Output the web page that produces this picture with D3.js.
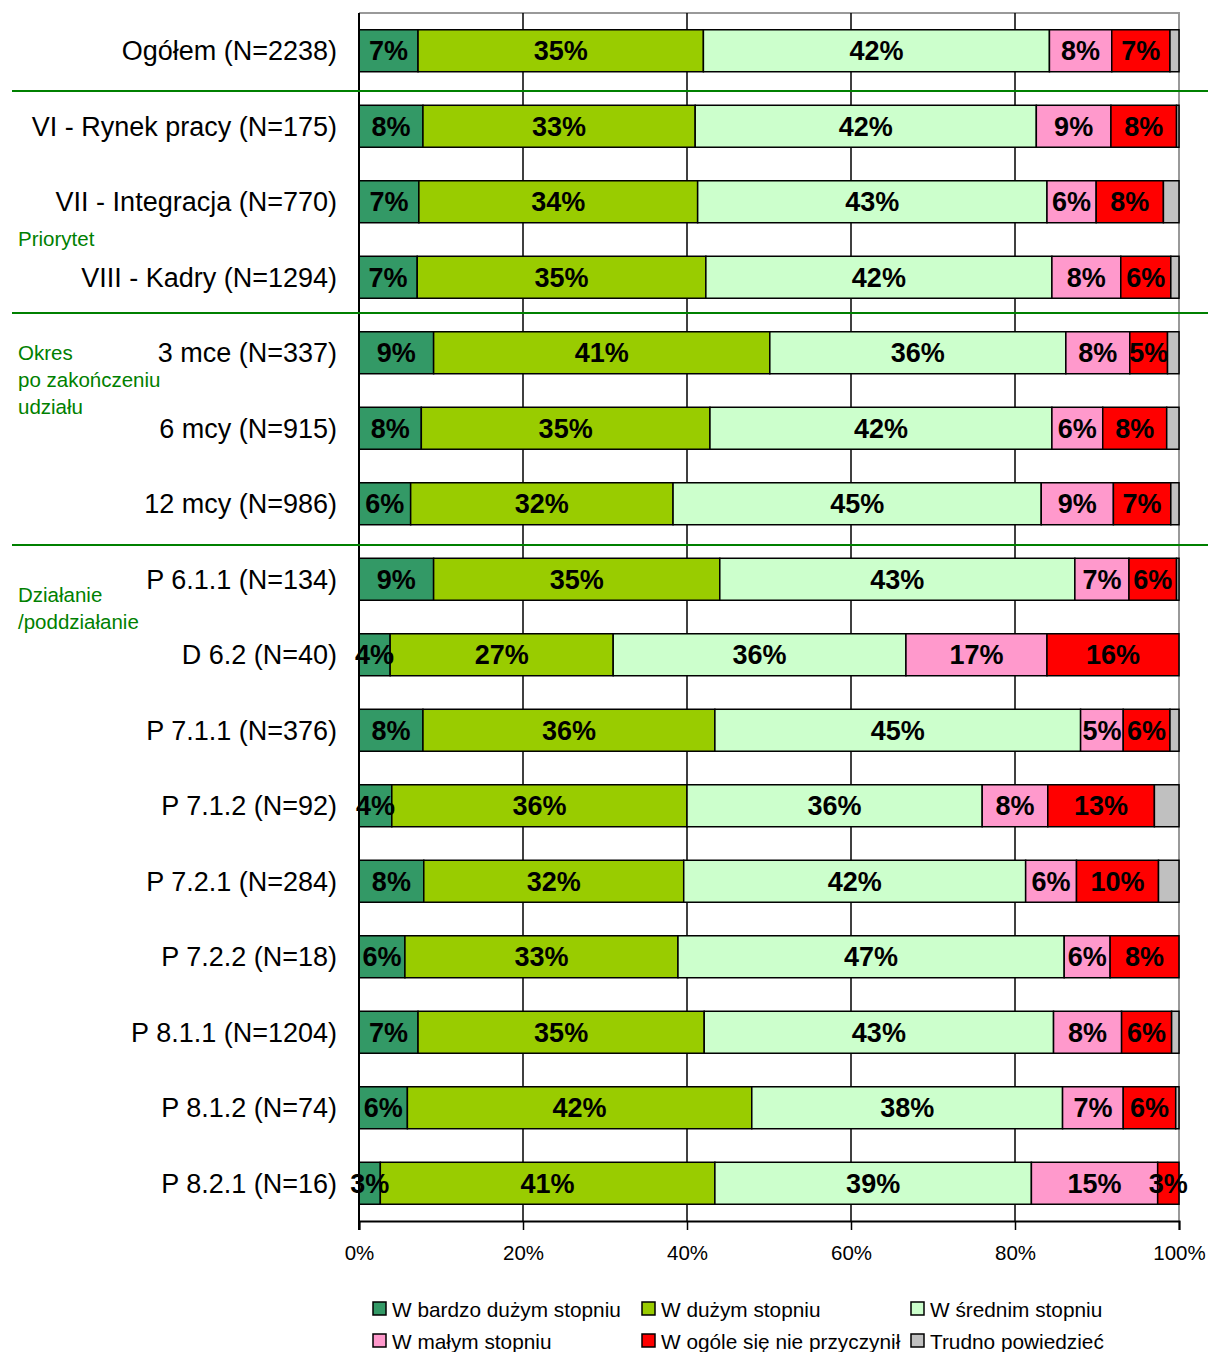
<!DOCTYPE html>
<html>
<head>
<meta charset="utf-8">
<script src="https://cdn.jsdelivr.net/npm/d3@7"></script>
<style>
  body { margin: 0; background: #fff; }
  text { font-family: "Liberation Sans", Arial, sans-serif; }
  .narrow { font-family: "Liberation Sans Narrow", "Liberation Sans", Arial, sans-serif; }
</style>
</head>
<body>
<svg id="canvas" width="1208" height="1352"></svg>
<script>
// categories (rows, top to bottom)
let categories = [
  "Ogółem (N=2238)",
  "VI - Rynek pracy (N=175)",
  "VII - Integracja (N=770)",
  "VIII - Kadry (N=1294)",
  "3 mce (N=337)",
  "6 mcy (N=915)",
  "12 mcy (N=986)",
  "P 6.1.1 (N=134)",
  "D 6.2 (N=40)",
  "P 7.1.1 (N=376)",
  "P 7.1.2 (N=92)",
  "P 7.2.1 (N=284)",
  "P 7.2.2 (N=18)",
  "P 8.1.1 (N=1204)",
  "P 8.1.2 (N=74)",
  "P 8.2.1 (N=16)"
]

let seriesNames = ["W bardzo dużym stopniu", "W dużym stopniu", "W średnim stopniu",
                   "W małym stopniu", "W ogóle się nie przyczynił", "Trudno powiedzieć"]
let seriesColors = ["#339966", "#99CC00", "#CCFFCC", "#FF99CC", "#FF0000", "#C0C0C0"]

// percent values per series, one per category
let bardzoDuzym = [7.2, 7.8, 7.3, 7.1, 9.1, 7.6, 6.3, 9.1, 3.8, 7.8, 4.0, 7.9, 5.6, 7.2, 5.9, 2.6]
let duzym       = [34.8, 33.2, 34.0, 35.2, 41.0, 35.2, 32.0, 34.9, 27.2, 35.6, 36.0, 31.7, 33.3, 34.9, 42.0, 40.8]
let srednim     = [42.2, 41.6, 42.6, 42.2, 36.1, 41.7, 44.9, 43.3, 35.7, 44.6, 36.0, 41.7, 47.1, 42.6, 37.9, 38.6]
let malym       = [7.6, 9.1, 6.0, 8.4, 7.8, 6.2, 8.8, 6.6, 17.2, 5.2, 8.0, 6.2, 5.6, 8.3, 7.4, 15.4]
let wOgole      = [7.1, 8.0, 8.2, 6.1, 4.6, 7.8, 7.0, 5.8, 16.1, 5.7, 13.0, 10.0, 8.4, 6.1, 6.4, 2.6]
let trudno      = [1.1, 0.3, 1.9, 1.0, 1.4, 1.5, 1.0, 0.3, 0, 1.1, 3.0, 2.5, 0, 0.9, 0.4, 0]

let xTicks = [0, 20, 40, 60, 80, 100]

// group labels at the left and separators
let groupLabels = [
  {lines: ["Priorytet"], x: 18, y: 246},
  {lines: ["Okres", "po zakończeniu", "udziału"], x: 18, y: 360},
  {lines: ["Działanie", "/poddziałanie"], x: 18, y: 602}
]
let separatorsAfter = [0, 3, 6]
let separatorShift = [2.5, -2, 3.5]

let series = [bardzoDuzym, duzym, srednim, malym, wOgole, trudno]

let rows = categories.map((c, i) => {
  let r = {cat: c}
  seriesNames.forEach((s, j) => r[s] = series[j][i])
  return r
})

let canvas = d3.select("#canvas")

let plotLeft = 359, plotRight = 1179, plotTop = 13, plotBottom = 1221

let x = d3.scaleLinear().domain([0, 100]).range([plotLeft, plotRight])
let y = d3.scaleBand().domain(categories).range([plotTop, plotBottom])
          .paddingInner(0.444).paddingOuter(0.222)

let stacked = d3.stack().keys(seriesNames)(rows)

// plot border (top and right, gray)
canvas.append("path")
  .attr("d", `M${plotLeft},${plotTop}H${plotRight}V${plotBottom}`)
  .attr("fill", "none").attr("stroke", "#999").attr("stroke-width", 2)

// vertical gridlines
canvas.selectAll(".grid")
  .data(xTicks.slice(1, -1))
  .enter().append("line")
  .attr("x1", d => x(d)).attr("x2", d => x(d))
  .attr("y1", plotTop).attr("y2", plotBottom)
  .attr("stroke", "#000").attr("stroke-width", 1.5)

// bars
let layer = canvas.selectAll(".layer")
  .data(stacked)
  .enter().append("g")
  .attr("fill", (d, i) => seriesColors[i])

layer.selectAll("rect")
  .data(d => d)
  .enter().append("rect")
  .attr("x", d => x(d[0]))
  .attr("y", d => y(d.data.cat))
  .attr("width", d => x(d[1]) - x(d[0]))
  .attr("height", y.bandwidth())
  .attr("stroke", "#000").attr("stroke-width", 1.5)

// bar value labels (all but "Trudno powiedzieć")
stacked.slice(0, 5).forEach(s => {
  canvas.append("g").selectAll("text")
    .data(s)
    .enter().append("text")
    .attr("x", d => (x(d[0]) + x(d[1])) / 2)
    .attr("y", d => y(d.data.cat) + y.bandwidth() / 2)
    .attr("dy", "0.36em")
    .attr("text-anchor", "middle")
    .attr("font-size", 27).attr("font-weight", "bold")
    .attr("fill", "#000")
    .text(d => Math.round(d[1] - d[0]) + "%")
})

// x axis
let xAxis = d3.axisBottom(x).tickValues(xTicks).tickFormat(d => d + "%").tickSize(9)
let gx = canvas.append("g").attr("transform", `translate(0,${plotBottom})`).call(xAxis)
gx.select(".domain").attr("stroke", "#000").attr("stroke-width", 2)
gx.selectAll(".tick line").attr("stroke", "#000").attr("stroke-width", 1.5)
gx.selectAll(".tick text")
  .attr("class", "narrow")
  .attr("font-size", 20.5).attr("fill", "#000").attr("y", 24)

// y axis line
canvas.append("line")
  .attr("x1", plotLeft).attr("x2", plotLeft).attr("y1", plotTop).attr("y2", plotBottom + 9)
  .attr("stroke", "#000").attr("stroke-width", 2)

// category labels
canvas.selectAll(".cat")
  .data(categories)
  .enter().append("text")
  .attr("x", 337)
  .attr("y", d => y(d) + y.bandwidth() / 2)
  .attr("dy", "0.36em")
  .attr("text-anchor", "end")
  .attr("font-size", 27)
  .attr("fill", "#000")
  .text(d => d)

// green separators
canvas.selectAll(".sep")
  .data(separatorsAfter)
  .enter().append("line")
  .attr("x1", 12).attr("x2", 1208)
  .attr("y1", (d, i) => y(categories[d + 1]) - (y.step() - y.bandwidth()) / 2 + separatorShift[i])
  .attr("y2", (d, i) => y(categories[d + 1]) - (y.step() - y.bandwidth()) / 2 + separatorShift[i])
  .attr("stroke", "#008000").attr("stroke-width", 2)

// group labels
groupLabels.forEach(g => {
  let t = canvas.append("text")
    .attr("x", g.x).attr("y", g.y)
    .attr("font-size", 20.5).attr("fill", "#008000")
  g.lines.forEach((l, i) => {
    t.append("tspan").attr("x", g.x).attr("dy", i == 0 ? 0 : 27).text(l)
  })
})

// legend
let legendX = [373, 642, 911]
let legendY = [1309, 1341]
let legend = canvas.selectAll(".legend")
  .data(seriesNames)
  .enter().append("g")
  .attr("transform", (d, i) => `translate(${legendX[i % 3]},${legendY[Math.floor(i / 3)]})`)

legend.append("rect")
  .attr("x", 0).attr("y", -7)
  .attr("width", 13).attr("height", 13)
  .attr("fill", (d, i) => seriesColors[i])
  .attr("stroke", "#000").attr("stroke-width", 1.5)

legend.append("text")
  .attr("class", "narrow")
  .attr("x", 19).attr("dy", "0.36em")
  .attr("font-size", 20.8).attr("fill", "#000")
  .text(d => d)
</script>
</body>
</html>
